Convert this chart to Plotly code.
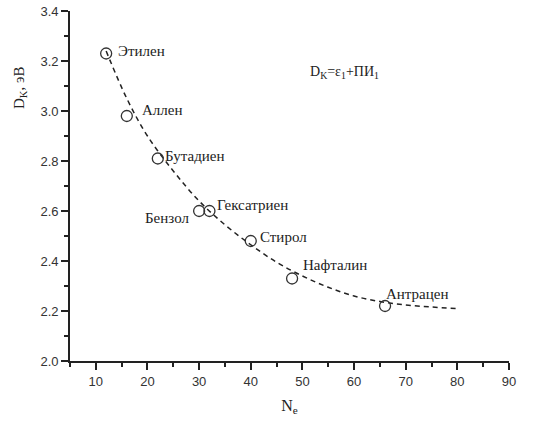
import plotly.graph_objects as go

names = ["Этилен", "Аллен", "Бутадиен", "Бензол", "Гексатриен", "Стирол", "Нафталин", "Антрацен"]
ne = [12, 16, 22, 30, 32, 40, 48, 66]
dk = [3.23, 2.98, 2.81, 2.60, 2.60, 2.48, 2.33, 2.22]

fit_x = [12, 16, 20, 25, 30, 35, 40, 45, 50, 55, 60, 65, 70, 75, 80]
fit_y = [3.24, 3.05, 2.90, 2.76, 2.64, 2.545, 2.465, 2.395, 2.34, 2.295, 2.26, 2.238, 2.224, 2.216, 2.21]

# label offsets in pixels (xshift, yshift, anchor)
label_style = [(10, 3, "left"), (13, 6, "left"), (5, 3, "left"), (-8, -7, "right"),
               (6, 6, "left"), (7, 4, "left"), (9, 14, "left"), (-1, 12, "left")]

serif = "Liberation Serif"
ink = "#222"

fig = go.Figure()
fig.add_trace(go.Scatter(x=fit_x, y=fit_y, mode="lines",
                         line=dict(color=ink, width=1.5, dash="5px,4px"),
                         line_shape="spline", hoverinfo="skip"))
fig.add_trace(go.Scatter(x=ne, y=dk, mode="markers",
                         marker=dict(symbol="circle-open", size=11, color="#333", line=dict(width=1.3))))

for name, x, y, (dx, dy, anc) in zip(names, ne, dk, label_style):
    fig.add_annotation(x=x, y=y, xref="x", yref="y", text=name, showarrow=False,
                       xanchor=anc, yanchor="middle", xshift=dx, yshift=dy,
                       font=dict(family=serif, size=15, color=ink))

fig.add_annotation(x=51, y=3.155, xref="x", yref="y",
                   text="D<sub>K</sub>=ε<sub>1</sub>+ПИ<sub>1</sub>",
                   showarrow=False, xanchor="left",
                   font=dict(family=serif, size=14, color=ink))

fig.add_annotation(xref="paper", yref="paper", x=(20 - 70) / 439, y=(361 - 88) / 350,
                   xanchor="center", yanchor="middle", text="D<sub>K</sub>, эВ",
                   showarrow=False, textangle=-90, font=dict(family=serif, size=15, color=ink))

axis_common = dict(showline=True, linecolor=ink, linewidth=1.8, ticks="outside", ticklen=7,
                   tickwidth=1.5, tickcolor=ink, showgrid=False, zeroline=False,
                   tickfont=dict(family="Liberation Sans", size=13, color="#333"))

fig.update_xaxes(range=[5, 90], tickvals=[10, 20, 30, 40, 50, 60, 70, 80, 90],
                 minor=dict(dtick=5, tick0=0, ticks="outside", ticklen=4, tickcolor=ink, tickwidth=1.5),
                 title=dict(text="N<sub>e</sub>", font=dict(family=serif, size=16, color=ink), standoff=12),
                 automargin=False, **axis_common)
fig.update_yaxes(range=[2.0, 3.4], tickvals=[2.0, 2.2, 2.4, 2.6, 2.8, 3.0, 3.2, 3.4], tickformat=".1f",
                 minor=dict(dtick=0.1, tick0=0, ticks="outside", ticklen=4, tickcolor=ink, tickwidth=1.5),
                 automargin=False, **axis_common)

fig.update_layout(width=545, height=421, margin=dict(l=70, r=36, t=11, b=60),
                  plot_bgcolor="white", paper_bgcolor="white", showlegend=False)

fig.write_html("out.html")
